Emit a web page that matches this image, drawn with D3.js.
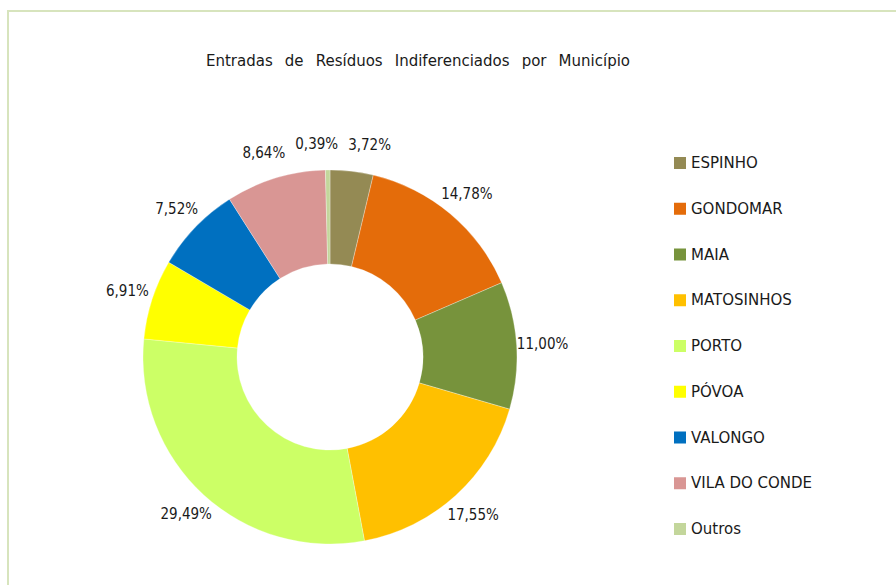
<!DOCTYPE html>
<html>
<head>
<meta charset="utf-8">
<script src="https://cdn.jsdelivr.net/npm/d3@7"></script>
<style>
  body { margin: 0; background: #fff; }
  text { font-family: "DejaVu Sans", sans-serif; fill: #1a1a1a; }
  text.lbl { font-family: "DejaVu Sans Condensed", "DejaVu Sans", sans-serif; }
</style>
</head>
<body>
<svg id="chart" width="896" height="585"></svg>
<script>
const municipios = ["ESPINHO", "GONDOMAR", "MAIA", "MATOSINHOS", "PORTO", "PÓVOA", "VALONGO", "VILA DO CONDE", "Outros"];
const percentagens = [3.72, 14.78, 11.00, 17.55, 29.49, 6.91, 7.52, 8.64, 0.39];
const cores = ["#948A54", "#E46C0A", "#77933C", "#FFC000", "#CCFF66", "#FFFF00", "#0070C0", "#D99694", "#C3D69B"];
const titulo = "Entradas de Resíduos Indiferenciados por Município";

const svg = d3.select("#chart");

// moldura
svg.append("rect")
  .attr("x", 8).attr("y", 11)
  .attr("width", 900).attr("height", 600)
  .attr("fill", "none")
  .attr("stroke", "#D7E4BD")
  .attr("stroke-width", 2);

const title = svg.append("text")
  .attr("x", 418).attr("y", 66)
  .attr("text-anchor", "middle")
  .attr("font-size", "15px")
  .text(titulo);

// espaçamento largo entre palavras, como no original
const tituloW = 424;
const natural = title.node().getComputedTextLength();
const nSpaces = titulo.split(" ").length - 1;
title.attr("word-spacing", Math.max(0, (tituloW - natural) / nSpaces));

const data = municipios.map((m, i) => ({ nome: m, valor: percentagens[i] }));
const color = d3.scaleOrdinal().domain(municipios).range(cores);

const cx = 330, cy = 357, outerR = 187, innerR = 93;

const pie = d3.pie().sort(null).value(d => d.valor);
const arc = d3.arc().innerRadius(innerR).outerRadius(outerR);
const arcs = pie(data);

const g = svg.append("g").attr("transform", `translate(${cx},${cy})`);

g.selectAll("path")
  .data(arcs)
  .join("path")
  .attr("d", arc)
  .attr("fill", d => color(d.data.nome))
  .attr("stroke", "#fff")
  .attr("stroke-width", 0.3);

// rótulos de percentagem
const fmt = v => v.toFixed(2).replace(".", ",") + "%";
const labelR = 213;

const labels = g.selectAll("text.lbl")
  .data(arcs)
  .join("text")
  .attr("class", "lbl")
  .attr("text-anchor", "middle")
  .attr("dominant-baseline", "central")
  .attr("font-size", "15px")
  .text(d => fmt(d.data.valor));

const pos = arcs.map((d, i) => {
  const a = (d.startAngle + d.endAngle) / 2;
  const w = labels.nodes()[i].getComputedTextLength();
  return { x: labelR * Math.sin(a), y: -labelR * Math.cos(a), w: w, h: 16 };
});

// afastar rótulos sobrepostos
for (let it = 0; it < 50; it++) {
  for (let i = 0; i < pos.length; i++) {
    for (let j = i + 1; j < pos.length; j++) {
      const p = pos[i], q = pos[j];
      const ox = (p.w + q.w) / 2 + 10 - Math.abs(p.x - q.x);
      const oy = (p.h + q.h) / 2 - Math.abs(p.y - q.y);
      if (ox > 0 && oy > 0) {
        const s = p.x < q.x ? -1 : 1;
        p.x += s * ox / 2;
        q.x -= s * ox / 2;
      }
    }
  }
}

labels.attr("x", (d, i) => pos[i].x).attr("y", (d, i) => pos[i].y);

// legenda
const ly = d3.scalePoint().domain(municipios).range([163, 529]);

const legend = svg.append("g");
const row = legend.selectAll("g")
  .data(municipios)
  .join("g")
  .attr("transform", d => `translate(674,${ly(d)})`);

row.append("rect")
  .attr("x", 0).attr("y", -6)
  .attr("width", 12).attr("height", 12)
  .attr("fill", d => color(d));

row.append("text")
  .attr("x", 17).attr("y", 0)
  .attr("dominant-baseline", "central")
  .attr("font-size", "15px")
  .text(d => d);
</script>
</body>
</html>
